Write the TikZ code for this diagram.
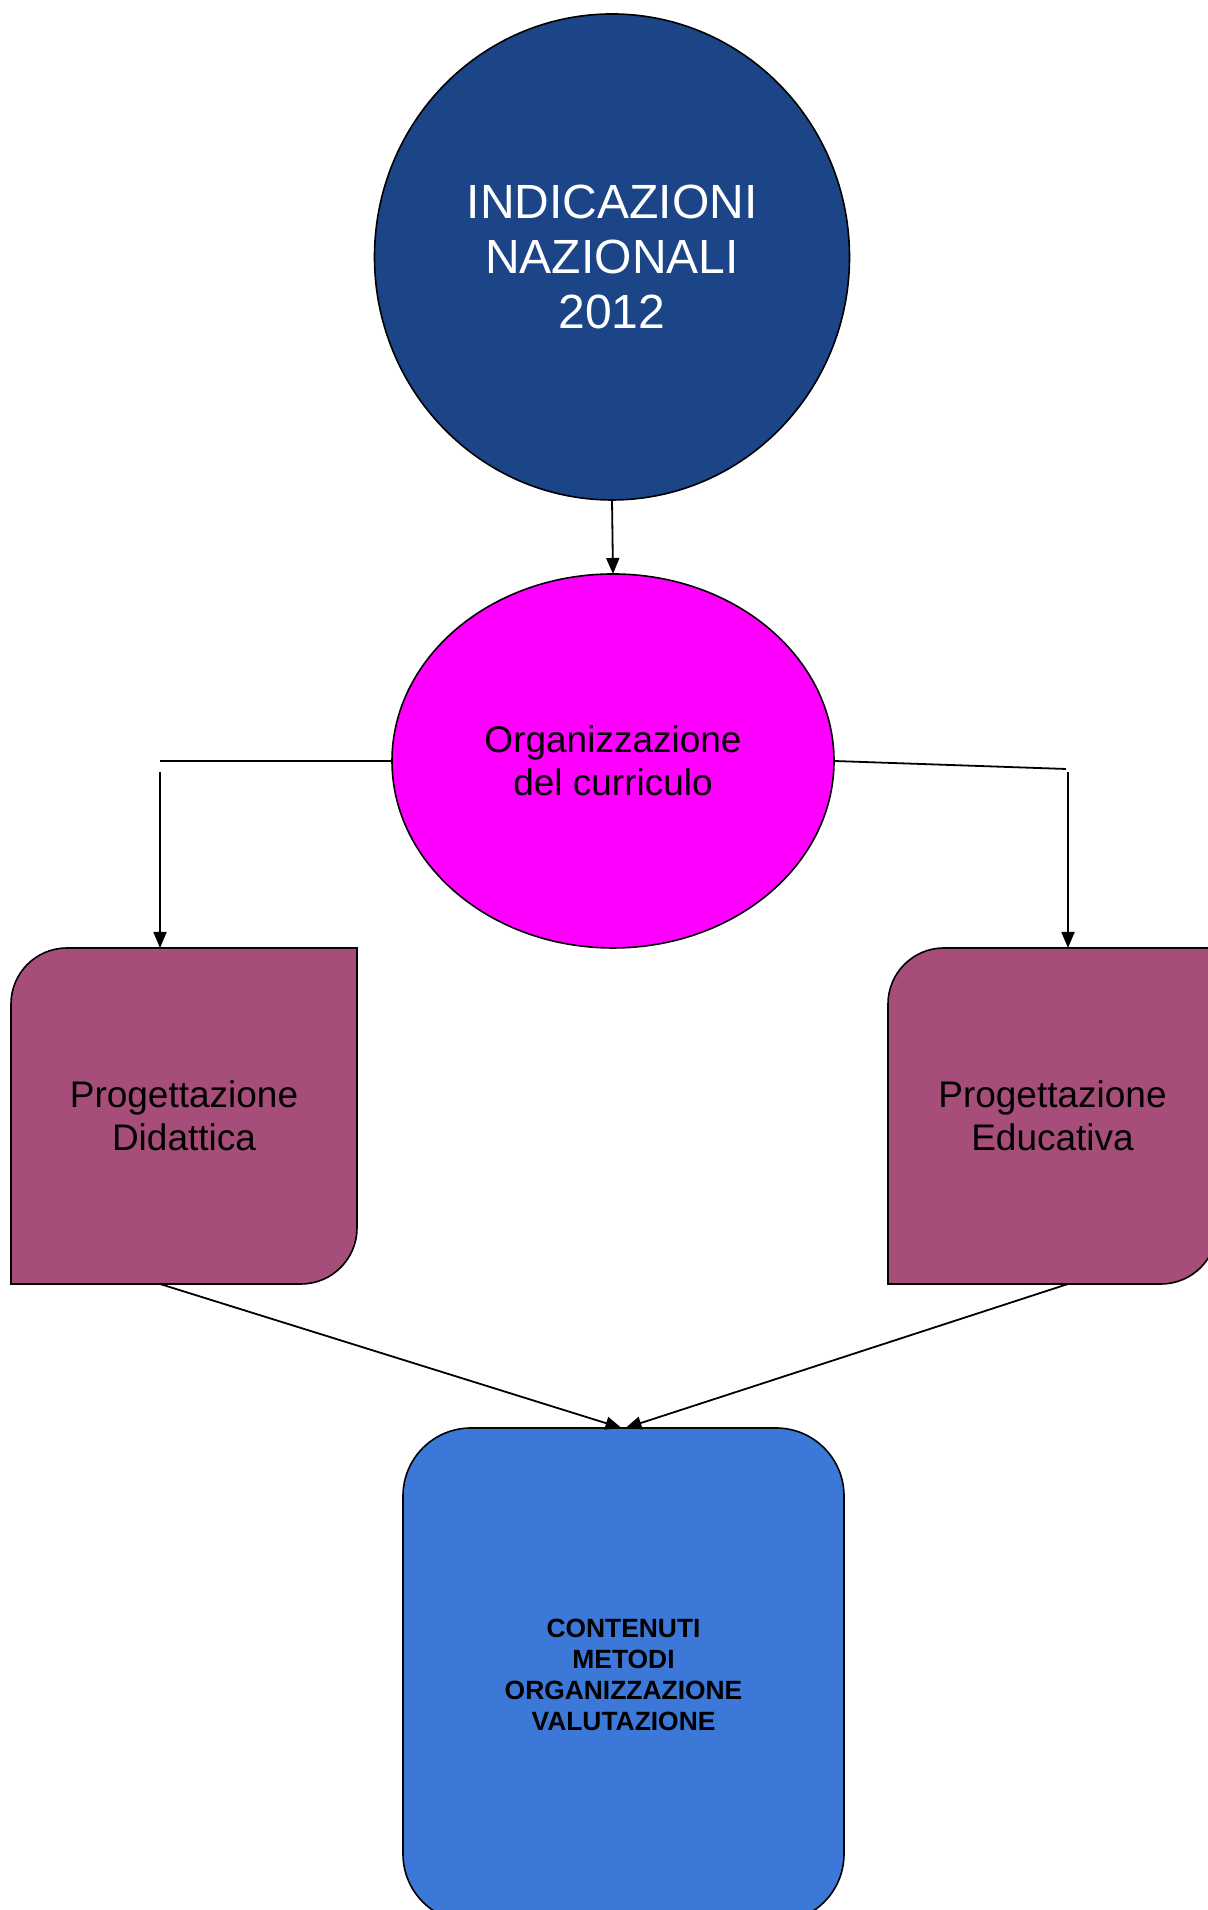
\documentclass[tikz,border=0pt]{standalone}
\usepackage{fontspec}
\setmainfont{Liberation Sans}
\usetikzlibrary{shapes.geometric,arrows.meta,backgrounds}
\definecolor{navy}{HTML}{1C4587}
\definecolor{fuchsia}{HTML}{FF00FF}
\definecolor{mauve}{HTML}{A64D79}
\definecolor{cornflower}{HTML}{3C78D8}

\begin{document}
\begin{tikzpicture}[x=0.5pt, y=0.5pt, line join=miter,
    every node/.style={align=center, inner sep=0pt, outer sep=0pt},
    oval/.style={ellipse, draw, line width=0.8pt},
    proj/.style={minimum height=168pt, font=\fontsize{18.5}{21.5}\selectfont},
    projbg/.style={draw, fill=mauve, line width=0.8pt},
    arr/.style={-{Triangle[length=8pt,width=6.5pt]}, line width=0.9pt}]
    \useasboundingbox (0,0) rectangle (1207,1910);

    \node[oval, fill=navy, text=white, minimum width=237.5pt, minimum height=243pt,
          font=\fontsize{24}{27.5}\selectfont] (nazionali) at (612,1653) {INDICAZIONI\\NAZIONALI\\2012};
    \node[oval, fill=fuchsia, minimum width=221pt, minimum height=187pt,
          font=\fontsize{18.5}{21.25}\selectfont] (org) at (613,1149) {Organizzazione\\del curriculo};

    \node[proj, minimum width=173pt] (didattica) at (184,794) {Progettazione\\Didattica};
    \node[proj, minimum width=164.5pt] (educativa) at (1052.5,794) {Progettazione\\Educativa};

    \node[draw, fill=cornflower, rounded corners=34pt, line width=0.8pt, minimum width=220.5pt,
          minimum height=247pt, font=\bfseries\fontsize{13.2}{15.5}\selectfont] (contenuti) at (623.5,235)
          {CONTENUTI\\METODI\\ORGANIZZAZIONE\\VALUTAZIONE};

    % boxes with two round corners
    \begin{scope}[on background layer]
        \draw[projbg] (didattica.south west) -- ([yshift=-28pt]didattica.north west)
            arc[start angle=180, end angle=90, radius=28pt] -- (didattica.north east)
            -- ([yshift=28pt]didattica.south east) arc[start angle=0, end angle=-90, radius=28pt] -- cycle;
        \draw[projbg] (educativa.south west) -- ([yshift=-28pt]educativa.north west)
            arc[start angle=180, end angle=90, radius=28pt] -- (educativa.north east)
            -- ([yshift=28pt]educativa.south east) arc[start angle=0, end angle=-90, radius=28pt] -- cycle;
    \end{scope}

    \coordinate (lbend) at (160,1149);
    \coordinate (ltop) at (160,1138);
    \coordinate (rbend) at (1066,1141);
    \coordinate (rtop) at (1068,1138);

    \draw[arr] (nazionali.south) -- (org.north);
    \draw[line width=0.9pt] (org.west) -- (lbend);
    \draw[line width=0.9pt] (org.east) -- (rbend);
    \draw[arr] (ltop) -- (ltop |- didattica.north);
    \draw[arr] (rtop) -- (rtop |- educativa.north);
    \draw[arr] (ltop |- didattica.south) -- ([xshift=-1pt]contenuti.north);
    \draw[arr] (rtop |- educativa.south) -- ([xshift=1pt]contenuti.north);
\end{tikzpicture}
\end{document}
